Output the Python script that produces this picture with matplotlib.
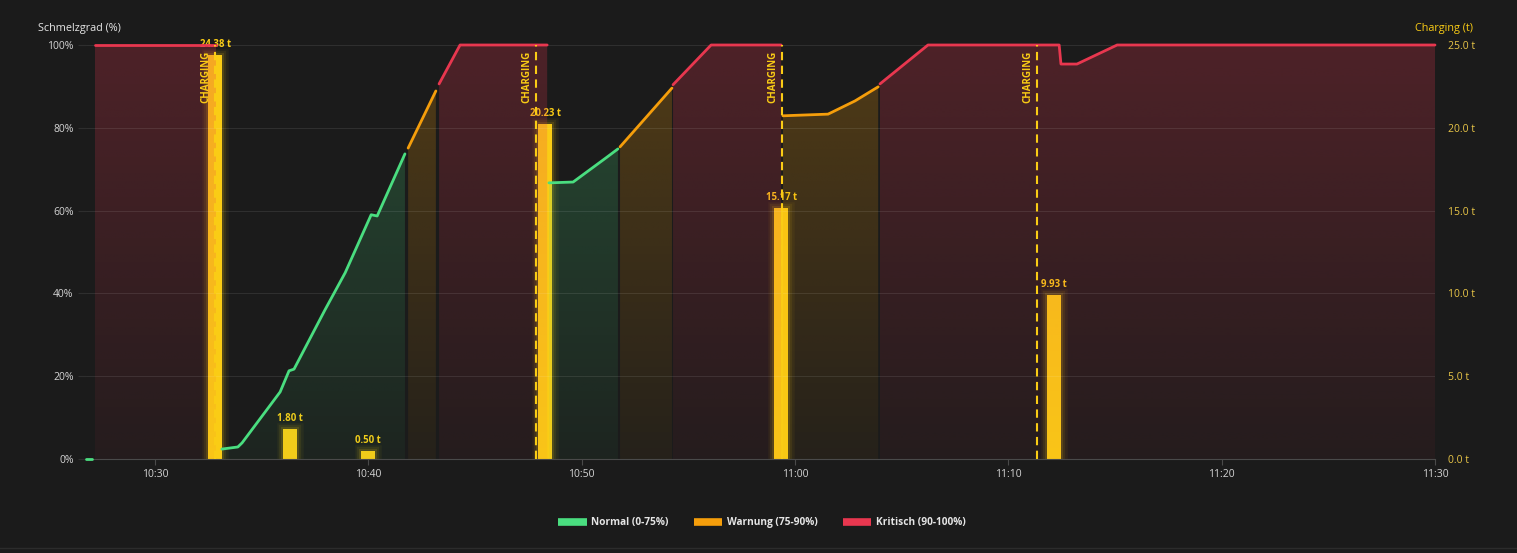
import numpy as np
import pandas as pd
import matplotlib
matplotlib.use("Agg")
import matplotlib.pyplot as plt
import matplotlib.dates as mdates
from matplotlib.colors import to_rgb
from matplotlib.lines import Line2D

plt.rcParams['font.family'] = ['Open Sans', 'DejaVu Sans']

# --- data (None = gap between segments) ---
normal_t = ["10:26:46", "10:27:02", None,
            "10:33:08", "10:33:53", "10:34:05", "10:35:52", "10:36:17", "10:36:31",
            "10:37:58", "10:38:55", "10:40:08", "10:40:25", "10:41:43", None,
            "10:48:28", "10:49:36", "10:51:11", "10:51:42"]
normal_v = [0, 0, None,
            2.4, 2.9, 3.9, 16.2, 21.3, 21.7, 36, 45, 59, 58.7, 73.7, None,
            66.7, 66.9, 72.9, 74.9]

warn_t = ["10:41:52", "10:43:10", None,
          "10:51:48", "10:54:14", None,
          "10:59:26", "11:01:33", "11:02:49", "11:03:54"]
warn_v = [75.1, 88.9, None,
          75.4, 89.6, None,
          82.9, 83.3, 86.5, 89.9]

crit_t = ["10:27:11", "10:32:52", None,
          "10:43:19", "10:44:18", "10:48:23", None,
          "10:54:17", "10:56:04", "10:59:21", None,
          "11:03:59", "11:06:14", "11:12:23", "11:12:28", "11:13:13", "11:15:06", "11:30:00"]
crit_v = [100, 100, None,
          90.6, 100, 100, None,
          90.4, 100, 100, None,
          90.6, 100, 100, 95.4, 95.4, 100, 100]

charge_t = ["10:32:49", "10:47:52", "10:59:24", "11:11:21"]

bar_t = ["10:32:49", "10:36:20", "10:40:00", "10:48:17", "10:59:21", "11:12:09"]
bar_v = [24.38, 1.80, 0.50, 20.23, 15.17, 9.93]

x_range = ["10:26:46", "11:30:00"]

# --- styles ---
BG = '#1b1b1b'
GREEN = '#4ade80'
ORANGE = '#f59e0b'
RED = '#e8374f'
YELLOW = '#facc15'
DAY = "2024-05-14 "


def to_num(ts):
    return mdates.date2num(pd.to_datetime([DAY + s for s in ts]))


def segments(ts, vs):
    out, ct, cv = [], [], []
    for t, v in zip(ts, vs):
        if t is None:
            out.append((ct, cv))
            ct, cv = [], []
        else:
            ct.append(t)
            cv.append(v)
    if ct:
        out.append((ct, cv))
    return [(to_num(a), np.array(b, float)) for a, b in out]


def grad_fill(ax, x, y, color, a_top=0.25, a_bot=0.05):
    poly = ax.fill_between(x, y, 0, color='none', lw=0)
    path = poly.get_paths()[0]
    rgba = np.zeros((200, 1, 4))
    rgba[:, :, :3] = to_rgb(color)
    rgba[:, 0, 3] = np.linspace(a_top, a_bot, 200)
    im = ax.imshow(rgba, aspect='auto', extent=[x[0], x[-1], 0, 100],
                   origin='upper', zorder=1, interpolation='bilinear')
    im.set_clip_path(path, transform=ax.transData)


fig = plt.figure(figsize=(15.17, 5.53), dpi=100, facecolor=BG)
ax = fig.add_axes([86 / 1517, 94 / 553, (1435 - 86) / 1517, 414 / 553])
ax2 = ax.twinx()
ax.set_zorder(2)
ax2.set_zorder(1)
ax.patch.set_visible(False)
ax2.patch.set_visible(False)

# bars (right axis) with soft glow
bx = to_num(bar_t)
bw = 0.66 / 1440
for lw, a in [(9, 0.05), (6, 0.08), (3, 0.14)]:
    ax2.bar(bx, bar_v, width=bw, color='none', edgecolor=YELLOW, linewidth=lw, alpha=a)
ax2.bar(bx, bar_v, width=bw, color=YELLOW, linewidth=0)
for x, v in zip(bx, bar_v):
    ax2.annotate(f'{v:.2f} t', (x, v), xytext=(0, 3.5), textcoords='offset points',
                 ha='center', va='bottom', fontsize=6.9, fontweight='bold', color=YELLOW)

# zone series
for ts, vs, col in [(normal_t, normal_v, GREEN), (warn_t, warn_v, ORANGE), (crit_t, crit_v, RED)]:
    for x, y in segments(ts, vs):
        grad_fill(ax, x, y, col)
        ax.plot(x, y, color=col, lw=2, solid_capstyle='round', zorder=3, clip_on=False)

# charging markers
for x in to_num(charge_t):
    ax.axvline(x, color=YELLOW, lw=1.5, ls=(0, (4, 2.6)), zorder=4)
    ax.annotate('CHARGING', (x, 100), xytext=(-3, -4), textcoords='offset points',
                rotation=90, ha='right', va='top', fontsize=7, fontweight='bold',
                color=YELLOW, zorder=5)

# axes
xr = to_num(x_range)
ax.set_xlim(xr[0], xr[1])
ax.set_ylim(0, 100)
ax2.set_ylim(0, 25)
ax.set_yticks(np.arange(0, 101, 20))
ax.set_yticklabels([f'{v}%' for v in range(0, 101, 20)])
ax2.set_yticks(np.arange(0, 26, 5))
ax2.set_yticklabels([f'{v:.1f} t' for v in range(0, 26, 5)])
ax.xaxis.set_major_locator(mdates.MinuteLocator(byminute=[0, 10, 20, 30, 40, 50]))
ax.xaxis.set_major_formatter(mdates.DateFormatter('%H:%M'))
ax.grid(axis='y', color='#ffffff', alpha=0.09, lw=0.8)
ax.grid(axis='x', visible=False)

for a in (ax, ax2):
    for s in a.spines.values():
        s.set_visible(False)
ax.spines['bottom'].set_visible(True)
ax.spines['bottom'].set_color('#4a4a4a')

ax.tick_params(axis='x', colors='#4a4a4a', labelcolor='#d4d4d4', labelsize=7.5, length=4, pad=3)
ax.tick_params(axis='y', colors='#2e2e2e', labelcolor='#d4d4d4', labelsize=7.5, length=6, pad=3)
ax2.tick_params(axis='y', labelcolor='#e8c547', labelsize=7.5, length=0, pad=9)

fig.text(38 / 1517, 1 - 28 / 553, 'Schmelzgrad (%)', color='#e5e5e5', fontsize=7.8,
         ha='left', va='center')
fig.text(1473 / 1517, 1 - 28 / 553, 'Charging (t)', color=YELLOW, fontsize=7.8,
         ha='right', va='center')

handles = [Line2D([], [], color=c, lw=5.5, solid_capstyle='butt') for c in (GREEN, ORANGE, RED)]
leg = fig.legend(handles, ['Normal (0-75%)', 'Warnung (75-90%)', 'Kritisch (90-100%)'],
                 loc='center', bbox_to_anchor=(762 / 1517, 1 - 523 / 553), ncol=3,
                 frameon=False, handlelength=2.8, handletextpad=0.45, columnspacing=2.5,
                 prop={'size': 7.3, 'weight': 'bold'})
for t in leg.get_texts():
    t.set_color('#e5e5e5')

fig.add_artist(Line2D([0, 1], [5 / 553, 5 / 553], color='#2c2c2c', lw=1))

fig.savefig('out.png', dpi=100, facecolor=BG)
